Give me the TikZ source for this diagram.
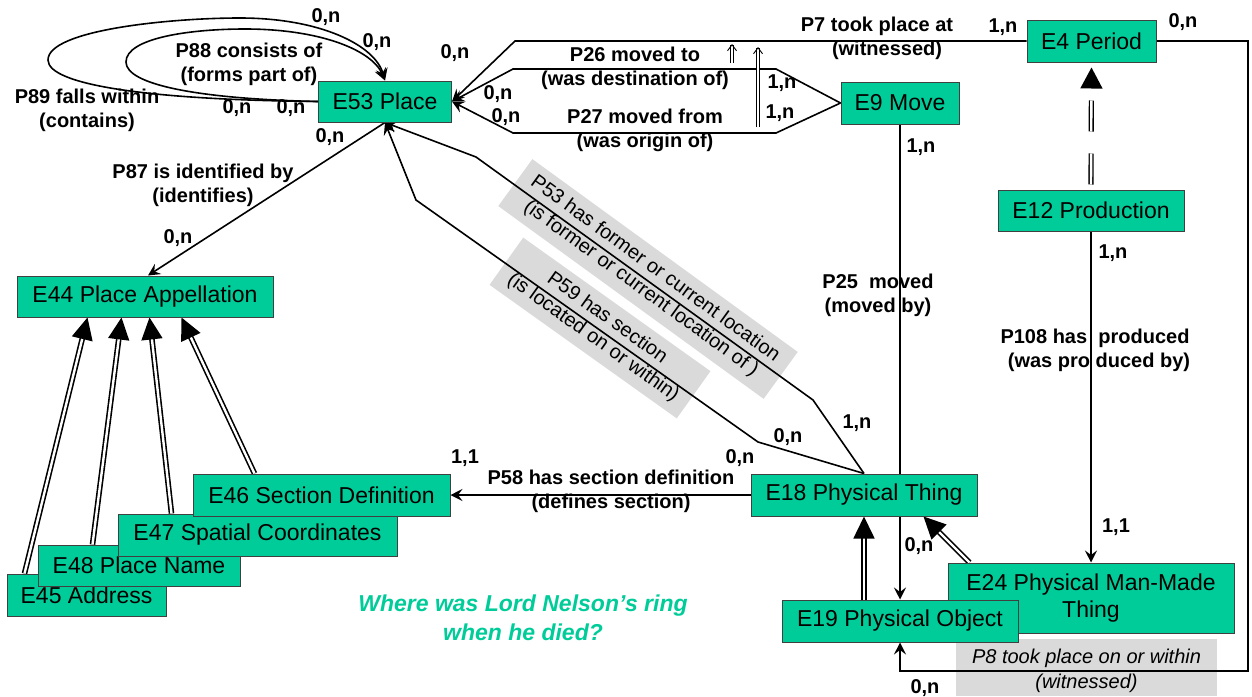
\documentclass[tikz,border=0pt]{standalone}
\usepackage{fontspec}
\setmainfont{Liberation Sans}
\usetikzlibrary{arrows.meta,calc}
\definecolor{ent}{RGB}{0,204,153}
\definecolor{greybox}{RGB}{218,218,218}
\newcommand\entfont{\fontsize{23}{27}\selectfont}
\newcommand\lblfont{\fontsize{20}{24}\selectfont\bfseries}
\newcommand\rotfont{\fontsize{20}{24}\selectfont}
\newcommand\itlfont{\fontsize{20}{25}\selectfont\itshape}
\newcommand\ttlfont{\fontsize{23}{29}\selectfont\bfseries\itshape}
\pgfdeclarelayer{greys}
\pgfdeclarelayer{lines}
\pgfsetlayers{greys,lines,main}
\begin{document}
\begin{tikzpicture}[x=1pt,y=-1pt,
  ent/.style={draw=black!75, fill=ent, line width=1pt, inner sep=0pt, font=\entfont, align=center},
  lbl/.style={font=\lblfont, align=center, inner sep=0pt},
  conn/.style={line width=1.6pt, line join=miter},
  arr/.style={conn, -{Stealth[length=12pt,width=12pt,inset=4.5pt]}},
  isa/.style={line width=1.6pt, double=white, double distance=2.4pt, -{Triangle[length=22pt,width=21pt]}},
  smalld/.style={line width=0.9pt, double=white, double distance=2.2pt, -{Straight Barb[length=6pt,width=9pt]}},
  greyl/.style={fill=greybox, inner sep=0pt, align=center, font=\rotfont}]
\useasboundingbox (0,0) rectangle (1252,696);

% entities
\node[ent, minimum width=133pt, minimum height=41pt] (place) at (385,101.5) {E53 Place};
\node[ent, minimum width=118pt, minimum height=42pt] (move) at (900,103) {E9 Move};
\node[ent, minimum width=129pt, minimum height=42pt] (period) at (1091.5,41) {E4 Period};
\node[ent, minimum width=186pt, minimum height=41pt] (prod) at (1091,210.5) {E12 Production};
\node[ent, minimum width=256pt, minimum height=41pt] (appel) at (145,296.5) {E44 Place Appellation};
\node[ent, minimum width=159pt, minimum height=42pt] (addr) at (86.5,595) {E45 Address};
\node[ent, minimum width=202pt, minimum height=41pt] (pname) at (139,565.5) {E48 Place Name};
\node[ent, minimum width=279pt, minimum height=42pt] (spatial) at (257.5,535) {E47 Spatial Coordinates};
\node[ent, minimum width=257pt, minimum height=42pt] (secdef) at (321.5,495) {E46 Section Definition};
\node[ent, minimum width=226pt, minimum height=42pt] (thing) at (864,495) {E18 Physical Thing};
\node[ent, minimum width=286pt, minimum height=70pt] (mmthing) at (1091,598) {E24 Physical Man-Made\\Thing};
\node[ent, minimum width=236pt, minimum height=42pt] (object) at (900,621) {E19 Physical Object};

% grey label boxes
\begin{pgfonlayer}{greys}
\node[greyl, rotate=-36, minimum width=328pt, minimum height=58pt] (p53lbl) at (648,279) {P53 has former or current location\\(is former or current location of )};
\node[greyl, rotate=-35.5, minimum width=230pt, minimum height=58pt] (p59lbl) at (600,328) {P59 has section\\(is located on or within)};
\fill[greybox] (956,639) rectangle (1217,696);
\end{pgfonlayer}
\node[font=\itlfont, align=center, inner sep=0pt] (p8lbl) at (1086.5,670.5) {P8 took place on or within\\(witnessed)};

% helper coordinates
\coordinate (p7a) at (515,41);
\coordinate (p26a) at (776,69);
\coordinate (p26b) at (513,69);
\coordinate (p27a) at (776,133);
\coordinate (p27b) at (513,133);
\coordinate (p8a) at (1248,41);
\coordinate (p8b) at (1248,671);
\coordinate (p8c) at (900,671);
\coordinate (p53a) at (813,400);
\coordinate (p53b) at (476,157);
\coordinate (p59a) at (758,442);
\coordinate (p59b) at (416,200);
\coordinate (sa1) at (732,63);
\coordinate (sa2) at (732,44);
\coordinate (sb1) at (758,127);
\coordinate (sb2) at (758,47);

\begin{pgfonlayer}{lines}
% self loops on E53
\draw[arr] (place.west) .. controls (150,100) and (48,85) .. (48,60)
  .. controls (48,30) and (170,18) .. (240,18)
  .. controls (320,18) and (375,45) .. (place.north);
\draw[arr] (place.west) .. controls (200,99) and (126,85) .. (126,62)
  .. controls (126,38) and (190,29) .. (245,29)
  .. controls (320,29) and (372,50) .. (place.north);
% P87
\draw[arr] (place.south) -- ([xshift=3pt]appel.north);
% P7
\draw[arr] (period.west) -- (p7a) -- (place.east);
% P26, P27
\draw[arr] (move.west) -- (p26a) -- (p26b) -- (place.east);
\draw[arr] (move.west) -- (p27a) -- (p27b) -- (place.east);
% small double arrows
\draw[smalld] (sa1) -- (sa2);
\draw[smalld] (sb1) -- (sb2);
% P8
\draw[arr] (period.east) -- (p8a) -- (p8b) -- (p8c) -- (object.south);
% P25
\draw[arr] (move.south) -- (object.north);
% P108
\draw[arr] (prod.south) -- (mmthing.north);
% E12 isA E4 (dashed)
\draw[line width=1.4pt, double=white, double distance=2.4pt, dash pattern=on 31pt off 22pt, -{Triangle[length=21pt,width=22pt]}]
  ([yshift=5pt]prod.north) -- ([yshift=-5pt]period.south);
% P53, P59
\draw[arr] (thing.north) -- (p53a) -- (p53b) -- (place.south);
\draw[arr] (thing.north) -- (p59a) -- (p59b) -- (place.south);
% P58
\draw[arr] (thing.west) -- (secdef.east);
% isA arrows
\draw[isa] ([xshift=-36pt]object.north) -- (thing.south);
\draw[isa] ([xshift=22pt]mmthing.north west) -- ([xshift=-54pt]thing.south east);
\draw[isa] ([xshift=18pt]addr.north west) -- ([xshift=71pt]appel.south west);
\draw[isa] ([xshift=55pt]pname.north west) -- ([xshift=105pt]appel.south west);
\draw[isa] ([xshift=54pt]spatial.north west) -- ([xshift=133pt]appel.south west);
\draw[isa] ([xshift=62pt]secdef.north west) -- ([xshift=165pt]appel.south west);
\end{pgfonlayer}

% labels
\node[lbl] (c1) at (326,17) {0,n};
\node[lbl] (c2) at (377,42) {0,n};
\node[lbl] (c3) at (237,108) {0,n};
\node[lbl] (c4) at (291,108) {0,n};
\node[lbl] (l89) at (87,110.5) {P89 falls within\\(contains)};
\node[lbl] (l88) at (249,64.5) {P88 consists of\\(forms part of)};
\node[lbl] (c5) at (330,137) {0,n};
\node[lbl] (l87) at (203,185) {P87 is identified by\\(identifies)};
\node[lbl] (c6) at (178,238) {0,n};
\node[lbl] (c7) at (455,53) {0,n};
\node[lbl] (c8) at (498,94) {0,n};
\node[lbl] (c9) at (506,117) {0,n};
\node[lbl] (l26) at (635,68.5) {P26 moved to\\(was destination of)};
\node[lbl] (l27) at (645,130) {P27 moved from\\(was origin of)};
\node[lbl] (c10) at (782,83) {1,n};
\node[lbl] (c11) at (780,113) {1,n};
\node[lbl] (l7) at (877,38.5) {P7 took place at\\\hspace*{1em}(witnessed)};
\node[lbl] (c12) at (1003,27) {1,n};
\node[lbl] (c13) at (1183,22) {0,n};
\node[lbl] (c14) at (921,147) {1,n};
\node[lbl] (c15) at (1113,253) {1,n};
\node[lbl] (l25) at (878,295) {P25\ \ moved\\(moved by)};
\node[lbl] (l108) at (1095,350.5) {P108 has\ \ produced\\\hspace*{0.4em}(was pro duced by)};
\node[lbl] (c16) at (857,423) {1,n};
\node[lbl] (c17) at (788,437) {0,n};
\node[lbl] (c18) at (740,458) {0,n};
\node[lbl] (c19) at (465,458) {1,1};
\node[lbl] (l58) at (611,491) {P58 has section definition\\(defines section)};
\node[lbl] (c20) at (1116,527) {1,1};
\node[lbl] (c21) at (919,546) {0,n};
\node[lbl] (c22) at (925,688) {0,n};
\node[font=\ttlfont, text=ent, align=center, inner sep=0pt] (title) at (523,617.5) {Where was Lord Nelson’s ring\\when he died?};
\end{tikzpicture}
\end{document}
